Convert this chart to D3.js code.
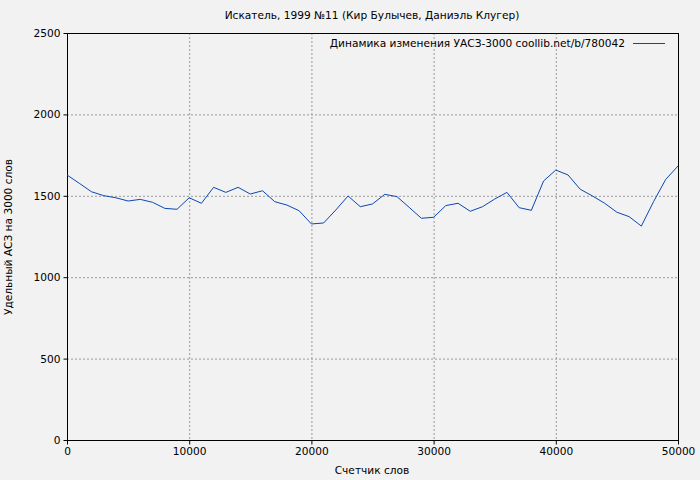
<!DOCTYPE html>
<html><head><meta charset="utf-8">
<script src="https://cdn.jsdelivr.net/npm/d3@7"></script>
<style>body{margin:0;background:#f2f2f2}text{font-family:"DejaVu Sans";font-size:10.6px;fill:#000}</style>
</head><body>
<svg id="c" width="700" height="480"></svg>
<script>
const words = d3.range(0, 50001, 1000)
const values = [1628,1577,1525,1501,1488,1468,1478,1460,1423,1417,1488,1454,1552,1521,1552,1511,1531,1464,1443,1408,
  1327,1333,1413,1499,1433,1450,1509,1495,1429,1362,1368,1440,1454,1405,1433,1480,1521,1427,1411,1591,
  1658,1628,1540,1499,1454,1399,1372,1314,1464,1601,1683]
const xTicks = [0,10000,20000,30000,40000,50000]
const yTicks = [0,500,1000,1500,2000,2500]

const svg = d3.select("#c")
svg.append("rect").attr("width",700).attr("height",480).attr("fill","#f2f2f2")
const x = d3.scaleLinear().domain([0,50000]).range([67,678])
const y = d3.scaleLinear().domain([0,2500]).range([440,33])

// grid
svg.append("g").selectAll("line").data(xTicks.slice(1,-1)).join("line")
  .attr("x1",d=>x(d)+0.5).attr("x2",d=>x(d)+0.5).attr("y1",33).attr("y2",440)
  .attr("stroke","#999").attr("stroke-dasharray","2,2")
svg.append("g").selectAll("line").data(yTicks.slice(1,-1)).join("line")
  .attr("y1",d=>y(d)+0.5).attr("y2",d=>y(d)+0.5).attr("x1",67).attr("x2",678)
  .attr("stroke","#999").attr("stroke-dasharray","2,2")

svg.append("rect").attr("x",67.5).attr("y",33.5).attr("width",611).attr("height",407)
  .attr("fill","none").attr("stroke","#000")

const xa = svg.append("g").attr("transform","translate(0,440.5)").call(d3.axisBottom(x).tickValues(xTicks).tickSize(4).tickFormat(d3.format("d")))
const ya = svg.append("g").attr("transform","translate(67.5,0)").call(d3.axisLeft(y).tickValues(yTicks).tickSize(4).tickFormat(d3.format("d")))
;[xa,ya].forEach(a=>{a.select(".domain").remove();a.selectAll("text").style("font-family","DejaVu Sans").style("font-size","10.6px")})

svg.append("path").datum(values).attr("fill","none").attr("stroke","#0a47b5").attr("stroke-width",1)
  .attr("d",d3.line().x((d,i)=>x(words[i])).y(d=>y(d)))

svg.append("text").attr("x",372).attr("y",19).attr("text-anchor","middle").text("Искатель, 1999 №11 (Кир Булычев, Даниэль Клугер)")
svg.append("text").attr("x",372).attr("y",474).attr("text-anchor","middle").text("Счетчик слов")
svg.append("text").attr("transform","translate(12,237) rotate(-90)").attr("text-anchor","middle").text("Удельный АСЗ на 3000 слов")
svg.append("text").attr("x",625).attr("y",47).attr("text-anchor","end").text("Динамика изменения УАСЗ-3000 coollib.net/b/780042")
svg.append("line").attr("x1",633).attr("x2",665).attr("y1",43.5).attr("y2",43.5).attr("stroke","#0a47b5")
</script>
</body></html>
